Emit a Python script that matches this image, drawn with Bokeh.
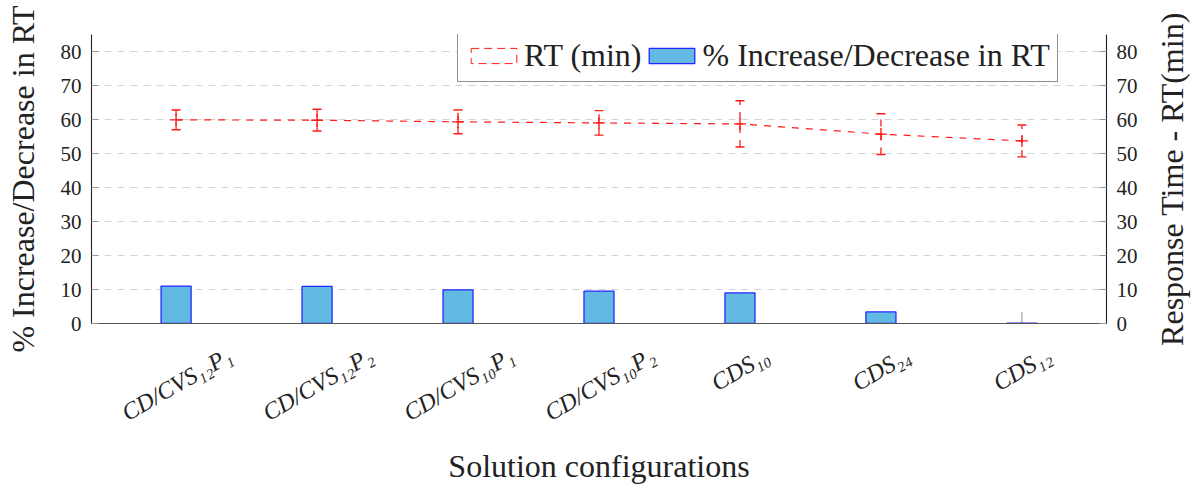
import math
from bokeh.plotting import figure
from bokeh.layouts import row
from bokeh.models import (Range1d, LinearAxis, FixedTicker, ColumnDataSource,
                          Legend, LegendItem, Whisker, TeeHead)
from bokeh.embed import file_html
from bokeh.resources import INLINE

# ---------------- data ----------------
categories = ["CD/CVS₁₂P₁", "CD/CVS₁₂P₂", "CD/CVS₁₀P₁", "CD/CVS₁₀P₂", "CDS₁₀", "CDS₂₄", "CDS₁₂"]
pct_change = [11.0, 10.9, 9.9, 9.5, 9.0, 3.4, 0.1]
pct_err = [0, 0, 0, 0, 0, 0, 3.2]
rt_min = [59.9, 59.8, 59.3, 59.0, 58.7, 55.7, 53.7]
rt_err = [2.9, 3.2, 3.5, 3.6, 6.8, 6.0, 4.7]
y_ticks = [0, 10, 20, 30, 40, 50, 60, 70, 80]

# ---------------- style ----------------
SERIF = "Liberation Serif"
BIG = "32px"
TICK_FS = 24
ANGLE = math.pi / 6
RED = "#ff1a1a"
W, H = 1199, 488
SIDE_W = 49                      # strip on the right holding the right-axis title
MAIN_W = W - SIDE_W
L, R, T, B = 91, MAIN_W - 1106, 34, 165
X_START, X_END = -0.6, len(categories) - 0.4

xs = list(range(len(categories)))

p = figure(width=MAIN_W, height=H, output_backend="svg", toolbar_location=None,
           x_range=Range1d(X_START, X_END), y_range=Range1d(0, 85),
           min_border_left=L, min_border_right=R, min_border_top=T, min_border_bottom=B)
p.outline_line_color = None
p.background_fill_color = "white"
p.border_fill_color = "white"
p.extra_y_ranges = {"rt": Range1d(0, 85)}

# grid
p.xgrid.visible = False
p.ygrid.ticker = FixedTicker(ticks=y_ticks)
p.ygrid.grid_line_color = "#d4d4d4"
p.ygrid.grid_line_dash = "7 6"
p.ygrid.grid_line_width = 1.1

# ---------------- x axis with rotated category labels ----------------
# Bokeh anchors rotated labels at their right end; shift each anchor so the
# rotated label box is centred on its category.
def est_em(s):
    tot = 0.0
    for ch in s:
        if ch in "₀₁₂₃₄₅₆₇₈₉":
            tot += 0.34
        elif ch == "/":
            tot += 0.3
        else:
            tot += 0.64
    return tot

frame_w = MAIN_W - L - R
ppu = frame_w / (X_END - X_START)
label_ticks = [round(i + est_em(c) * TICK_FS * math.cos(ANGLE) / 2 / ppu, 4)
               for i, c in zip(xs, categories)]

p.xaxis.ticker = FixedTicker(ticks=label_ticks)
p.xaxis.major_label_overrides = {t: c for t, c in zip(label_ticks, categories)}
p.xaxis.major_label_orientation = ANGLE
p.xaxis.major_label_text_font = SERIF
p.xaxis.major_label_text_font_style = "italic"
p.xaxis.major_label_text_font_size = f"{TICK_FS}px"
p.xaxis.major_label_text_color = "#222222"
p.xaxis.major_label_standoff = 30
p.xaxis.major_tick_in = 0
p.xaxis.major_tick_out = 0
p.xaxis.minor_tick_line_color = None
p.xaxis.axis_line_color = "#555555"
p.xaxis.axis_line_width = 1.2
p.xaxis.axis_label = "Solution configurations"
p.xaxis.axis_label_text_font = SERIF
p.xaxis.axis_label_text_font_size = BIG
p.xaxis.axis_label_text_font_style = "normal"
p.xaxis.axis_label_text_color = "#222222"
p.xaxis.axis_label_standoff = 8

# ---------------- y axes ----------------
def style_y(ax):
    ax.ticker = FixedTicker(ticks=y_ticks)
    ax.major_tick_in = 7
    ax.major_tick_out = 0
    ax.minor_tick_line_color = None
    ax.major_tick_line_color = "#999999"
    ax.axis_line_color = "#222222"
    ax.axis_line_width = 1.1
    ax.major_label_text_font = SERIF
    ax.major_label_text_font_size = "21px"
    ax.major_label_text_color = "#222222"
    ax.major_label_standoff = 10
    ax.axis_label_text_font = SERIF
    ax.axis_label_text_font_size = BIG
    ax.axis_label_text_font_style = "normal"
    ax.axis_label_text_color = "#222222"

style_y(p.yaxis[0])
p.yaxis.axis_label = "% Increase/Decrease in RT"
p.yaxis.axis_label_standoff = 17

raxis = LinearAxis(y_range_name="rt")
style_y(raxis)
p.add_layout(raxis, "right")

# ---------------- bars ----------------
bar_src = ColumnDataSource(dict(x=xs, top=pct_change,
                                err_top=[v + e for v, e in zip(pct_change, pct_err)]))
p.segment(x0="x", y0="top", x1="x", y1="err_top", source=bar_src,
          line_color="#b5b5b5", line_width=1.5)
bars = p.vbar(x="x", top="top", bottom=0, width=0.213, source=bar_src,
              fill_color="#62b9e2", line_color="#2626ff", line_width=1.3)

# ---------------- RT line ----------------
rt_src = ColumnDataSource(dict(x=xs, y=rt_min,
                               up=[v + e for v, e in zip(rt_min, rt_err)],
                               lo=[v - e for v, e in zip(rt_min, rt_err)]))
p.line(x="x", y="y", source=rt_src, y_range_name="rt", line_color=RED,
       line_width=1.2, line_dash="7 7")
wh = Whisker(base="x", upper="up", lower="lo", source=rt_src, y_range_name="rt",
             line_color=RED, line_width=1.3, line_dash="7 7",
             upper_head=TeeHead(size=9, line_color=RED, line_width=1.4),
             lower_head=TeeHead(size=9, line_color=RED, line_width=1.4))
p.add_layout(wh)
p.scatter(x="x", y="y", source=rt_src, y_range_name="rt", marker="cross", size=12,
          line_color=RED, line_width=1.4)

# zero-size quads: only used to give the RT legend entry a dashed rectangle
dummy = p.quad(left="x", right="x", top="y", bottom="y", source=rt_src,
               y_range_name="rt", fill_alpha=0, line_color=RED,
               line_dash="8 5", line_width=1)

legend = Legend(items=[LegendItem(label="RT (min)", renderers=[dummy]),
                       LegendItem(label="% Increase/Decrease in RT", renderers=[bars])],
                orientation="horizontal", location=(366, 241),
                border_line_color="#222222", border_line_width=1.2,
                background_fill_color="white", background_fill_alpha=1,
                label_text_font=SERIF, label_text_font_size=BIG, label_text_color="#222222",
                glyph_width=57, glyph_height=19, padding=7, spacing=2,
                label_standoff=2, margin=0)
p.add_layout(legend)

# ---------------- right-axis title strip (text reads bottom to top) ----------------
# a narrow figure whose (otherwise empty) left axis carries the title
side = figure(width=SIDE_W, height=H, output_backend="svg", toolbar_location=None,
              x_axis_location=None, y_axis_location="left",
              x_range=Range1d(0, 1), y_range=Range1d(0, 85),
              min_border_left=40, min_border_right=0, min_border_top=T, min_border_bottom=B)
side.outline_line_color = None
side.xgrid.visible = False
side.ygrid.visible = False
side.yaxis.ticker = FixedTicker(ticks=[])
side.yaxis.axis_line_color = None
side.yaxis.major_tick_line_color = None
side.yaxis.minor_tick_line_color = None
side.yaxis.axis_label = "Response Time - RT(min)"
side.yaxis.axis_label_text_font = SERIF
side.yaxis.axis_label_text_font_size = BIG
side.yaxis.axis_label_text_font_style = "normal"
side.yaxis.axis_label_text_color = "#222222"
side.yaxis.axis_label_standoff = 4

layout = row(p, side, spacing=0)
open("out.html", "w").write(file_html(layout, INLINE))
